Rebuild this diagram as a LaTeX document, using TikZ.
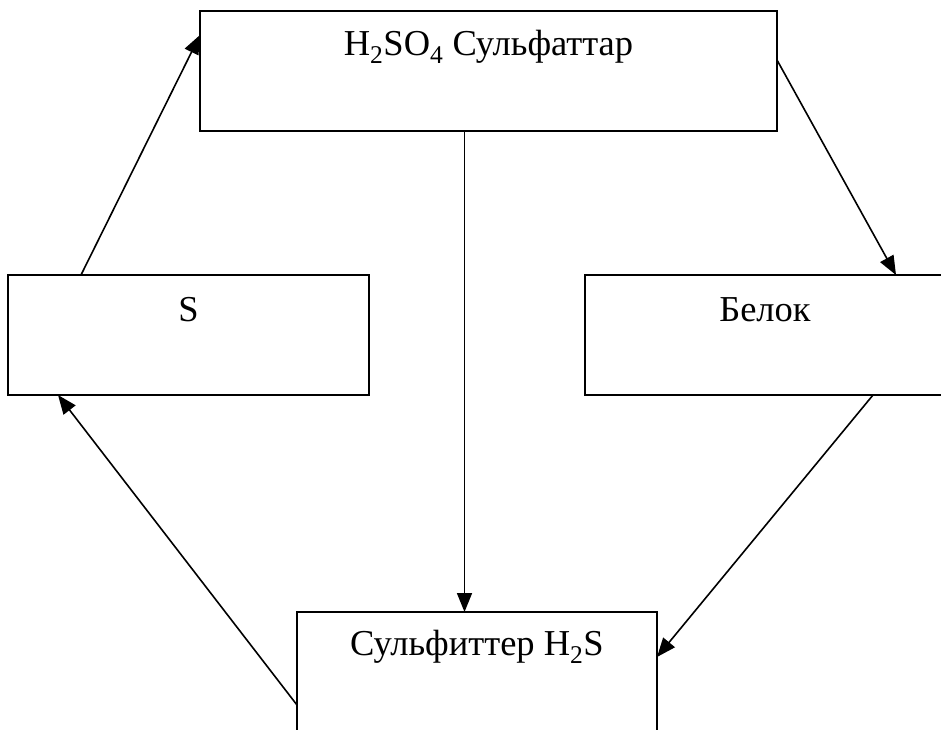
\documentclass[tikz,border=0pt]{standalone}
\usepackage{fontspec}
\setmainfont{Liberation Serif}
\usetikzlibrary{arrows.meta}
\begin{document}
\begin{tikzpicture}[x=1pt,y=-1pt,
  boxnode/.style={draw=black, line width=1.6pt, rectangle, anchor=north west,
    minimum height=120pt, inner sep=0pt, outer sep=0pt},
  lbl/.style={anchor=base, inner sep=0pt, font=\fontsize{36.5pt}{44pt}\selectfont},
  conn/.style={draw=black, line width=1.6pt, -{Triangle[length=19pt,width=15pt]}}]
\clip (0,0) rectangle (941,729);
\fill[white] (0,0) rectangle (941,729);
% boxes
\node[boxnode, minimum width=577pt] (top) at (200,11) {};
\node[boxnode, minimum width=361pt] (sbox) at (8,275) {};
\node[boxnode, minimum width=360pt] (belok) at (585,275) {};
\node[boxnode, minimum width=360pt] (bot) at (297,612) {};
% texts
\node[lbl] (ttop) at ([yshift=-44pt]top.north) {H\textsubscript{2}SO\textsubscript{4} Сульфаттар};
\node[lbl] (ts) at ([yshift=-46pt]sbox.north) {S};
\node[lbl] (tbelok) at ([yshift=-46pt]belok.north) {Белок};
\node[lbl] (tbot) at ([yshift=-43pt]bot.north) {Сульфиттер H\textsubscript{2}S};
% connectors
\draw[conn] ([xshift=73pt]sbox.north west) -- ([yshift=-24pt]top.north west);
\draw[conn] ([yshift=-49pt]top.north east) -- ([xshift=311pt]belok.north west);
\draw[conn] ([xshift=-24pt]top.south) -- ([xshift=-12.5pt]bot.north);
\draw[conn] ([xshift=288pt]belok.south west) -- ([yshift=-45pt]bot.north east);
\draw[conn] ([yshift=-93pt]bot.north west) -- ([xshift=50pt]sbox.south west);
\end{tikzpicture}
\end{document}
